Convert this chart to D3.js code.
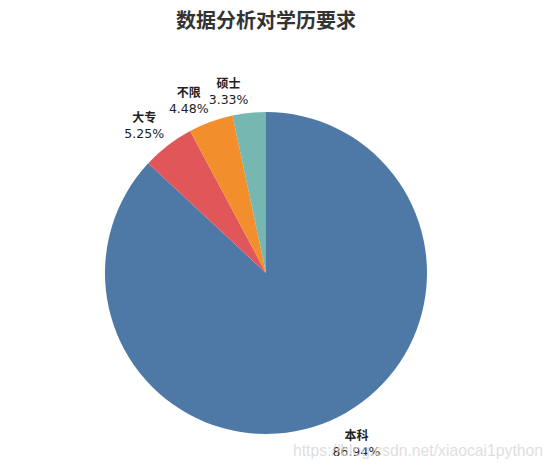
<!DOCTYPE html>
<html>
<head>
<meta charset="utf-8">
<script src="https://cdn.jsdelivr.net/npm/d3@7"></script>
<style>
  body { margin: 0; background: #fff; }
</style>
</head>
<body>
<div id="chart"></div>
<script>
// education requirement shares (percent)
var categories = ["本科", "大专", "不限", "硕士"];
var shares = [86.94, 5.25, 4.48, 3.33];
var colors = ["#4e79a7", "#e15759", "#f28e2b", "#76b7b2"];

var w = 554,
    h = 469,
    cx = 266,
    cy = 273,
    r = 161;

var svg = d3.select("#chart").append("svg")
    .attr("width", w)
    .attr("height", h);

// title
svg.append("text")
    .text("数据分析对学历要求")
    .attr("x", 266)
    .attr("y", 28)
    .attr("text-anchor", "middle")
    .attr("font-family", "'Noto Sans CJK SC', sans-serif")
    .attr("font-weight", "bold")
    .attr("font-size", 20)
    .attr("fill", "#333");

var data = categories.map(function(c, i) { return {name: c, value: shares[i]}; });

var pie = d3.pie()
    .value(function(d) { return d.value; })
    .sort(null);

var arc = d3.arc()
    .innerRadius(0)
    .outerRadius(r);

var labelArc = d3.arc()
    .innerRadius(167)
    .outerRadius(167);

var color = d3.scaleOrdinal()
    .domain(categories)
    .range(colors);

var g = svg.append("g")
    .attr("transform", "translate(" + cx + "," + cy + ")");

var arcs = pie(data);

g.selectAll("path")
    .data(arcs)
  .enter().append("path")
    .attr("d", arc)
    .attr("fill", function(d) { return color(d.data.name); });

//labels: name over percent, block pushed outward from the anchor point
arcs.forEach(function(d) {
    var p = labelArc.centroid(d);
    var lg = g.append("g");
    lg.append("text")
        .text(d.data.name)
        .attr("x", 0)
        .attr("y", 0)
        .attr("text-anchor", "middle")
        .attr("font-family", "'Noto Sans CJK SC', serif")
        .attr("font-weight", "bold")
        .attr("font-size", 12)
        .attr("fill", "#222");
    lg.append("text")
        .text(d.data.value.toFixed(2) + "%")
        .attr("x", 0)
        .attr("y", 16)
        .attr("text-anchor", "middle")
        .attr("font-family", "'DejaVu Sans', sans-serif")
        .attr("font-size", 12.5)
        .attr("fill", "#222");
    var bb = lg.node().getBBox();
    var tx = p[0] < 0 ? p[0] - (bb.x + bb.width) : p[0] - bb.x;
    var ty = p[1] < 0 ? p[1] - (bb.y + bb.height) : p[1] - bb.y;
    lg.attr("transform", "translate(" + tx + "," + ty + ")");
});

// watermark
svg.append("text")
    .text("https://blog.csdn.net/xiaocai1python")
    .attr("x", 293)
    .attr("y", 456)
    .attr("textLength", 250)
    .attr("lengthAdjust", "spacingAndGlyphs")
    .attr("font-family", "Arial, 'Liberation Sans', sans-serif")
    .attr("font-size", 17)
    .attr("fill", "#d8d8d8")
    .attr("fill-opacity", 0.85);
</script>
</body>
</html>
